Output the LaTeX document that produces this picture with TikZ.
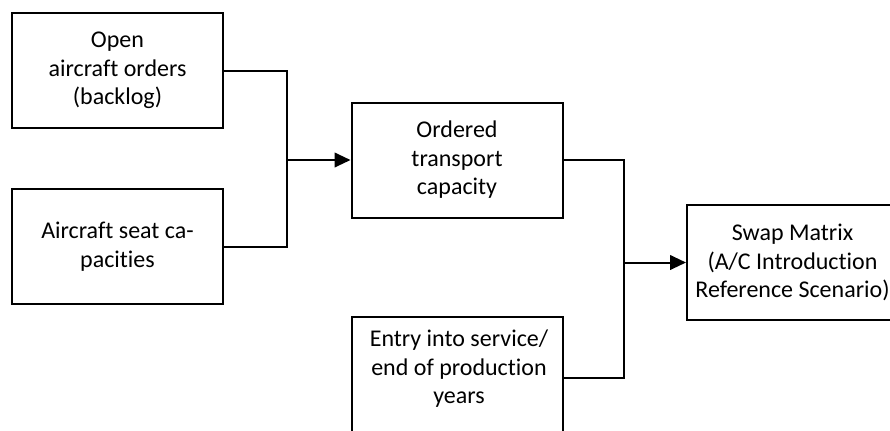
\documentclass[tikz,border=0pt]{standalone}
\usepackage{fontspec}
\setmainfont{Carlito}[Ligatures={NoCommon}, RawFeature={-liga;-clig}]
\usetikzlibrary{arrows.meta}

\tikzset{
  block/.style={draw=black, line width=1.5pt, fill=white, minimum width=158.25pt,
    minimum height=86.25pt, align=center, inner sep=0pt,
    font=\fontsize{18}{21.4}\selectfont},
  plain/.style={align=center, inner sep=0pt, font=\fontsize{18}{21.4}\selectfont},
  wire/.style={draw=black, line width=1.5pt},
  feed/.style={wire, -{Triangle[length=12pt,width=11pt]}}
}

\begin{document}
\begin{tikzpicture}[x=0.75pt, y=-0.75pt]
\path[use as bounding box, clip] (0,0) rectangle (890,430);

% input blocks
\node[block] (orders) at (117.5,70.5) {Open\\aircraft orders\\(backlog)};
\node[block] (seats) at (117.5,246.5) {Aircraft seat ca-\\pacities};
\node[block] (capacity) at (457,160) {Ordered\\transport\\capacity};
\node[block, minimum height=91.5pt] (eis) at (457,378) {};
\node[plain] (eistext) at (459,369) {Entry into service/\\end of production\\years};
\node[block] (swap) at (792.5,262.5) {Swap Matrix\\(A/C Introduction\\Reference Scenario)};

% junction points of the merging connectors
\coordinate (j1) at (287,160);
\coordinate (j2) at (624,262.5);

\draw[wire] (orders.east) -| (j1);
\draw[wire] (seats.east) -| (j1);
\draw[feed] (j1) -- (capacity.west);

\draw[wire] (capacity.east) -| (j2);
\draw[wire] (eis.east) -| (j2);
\draw[feed] (j2) -- (swap.west);
\end{tikzpicture}
\end{document}
